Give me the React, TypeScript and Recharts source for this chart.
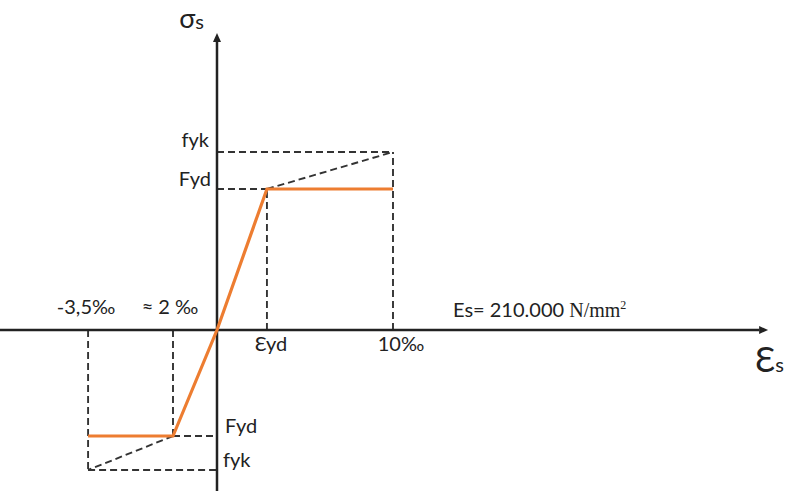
import React from 'react';
import { ComposedChart, Line, XAxis, YAxis, ReferenceLine, ReferenceDot } from 'recharts';

// schematic positions as drawn (the sketch is not to scale)
const strainMarks = [-5.86, -2.0, 2.27, 8.0]; // -3,5‰  ~2‰  εyd  10‰
const stressMarks = [-1.4, -1.06, 1.41, 1.78]; // -fyk  -Fyd  Fyd  fyk
const strainLabels = ['-3,5‰', '≈ 2 ‰', 'Ɛyd', '10‰'];
const stressLabels = ['fyk', 'Fyd', 'Fyd', 'fyk'];
const modulusLabel = ['Es= 210.000 ', 'N/mm', '2'];

const [eNeg35, eNeg2, eYd, e10] = strainMarks;
const [fykNeg, fydNeg, fydPos, fykPos] = stressMarks;

const curve = [
  { x: eNeg35, y: fydNeg },
  { x: eNeg2, y: fydNeg },
  { x: 0, y: 0 },
  { x: eYd, y: fydPos },
  { x: e10, y: fydPos },
];

const X_DOMAIN: [number, number] = [-9.8636, 25.9545];
const Y_DOMAIN: [number, number] = [-1.61, 3.3];
const X_END = 25.05;
const Y_TOP = 2.97;

const FONT = 'Lato, "Open Sans", sans-serif';
const MATH = '"Liberation Serif", "DejaVu Serif", serif';
const DASH = '7 4';

const arrowLine = (p: any) => {
  const { x1, y1, x2, y2 } = p;
  const ang = Math.atan2(y2 - y1, x2 - x1);
  const L = 9;
  const W = 4;
  const bx = x2 - L * Math.cos(ang);
  const by = y2 - L * Math.sin(ang);
  const nx = -Math.sin(ang) * W;
  const ny = Math.cos(ang) * W;
  return (
    <g>
      <line x1={x1} y1={y1} x2={bx} y2={by} stroke="#222" strokeWidth={2.5} />
      <polygon points={`${x2},${y2} ${bx + nx},${by + ny} ${bx - nx},${by - ny}`} fill="#222" />
    </g>
  );
};

const dashed = (key: string, a: { x: number; y: number }, b: { x: number; y: number }) => (
  <ReferenceLine
    key={key}
    segment={[a, b]}
    stroke="#333"
    strokeWidth={1.9}
    strokeDasharray={DASH}
    ifOverflow="visible"
  />
);

const tag = (
  key: string,
  x: number,
  y: number,
  text: React.ReactNode,
  dx: number,
  dy: number,
  anchor: 'start' | 'middle' | 'end',
  size = 20,
) => (
  <ReferenceDot
    key={key}
    x={x}
    y={y}
    r={1}
    ifOverflow="visible"
    shape={(p: any) => (
      <text
        x={p.cx + dx}
        y={p.cy + dy}
        textAnchor={anchor}
        fontFamily={FONT}
        fontSize={size}
        fill="#222"
      >
        {text}
      </text>
    )}
  />
);

export default function App() {
  return (
    <div style={{ position: 'absolute', left: 0, top: 0, background: '#fff' }}>
      <ComposedChart width={788} height={491} data={curve} margin={{ top: 0, right: 0, bottom: 0, left: 0 }}>
        <XAxis type="number" dataKey="x" domain={X_DOMAIN} allowDataOverflow hide />
        <YAxis type="number" dataKey="y" domain={Y_DOMAIN} allowDataOverflow hide />

        {dashed('d1', { x: 0, y: fykPos }, { x: e10, y: fykPos })}
        {dashed('d2', { x: 0, y: fydPos }, { x: eYd, y: fydPos })}
        {dashed('d3', { x: eYd, y: 0 }, { x: eYd, y: fydPos })}
        {dashed('d4', { x: e10, y: 0 }, { x: e10, y: fykPos })}
        {dashed('d5', { x: eYd, y: fydPos }, { x: e10, y: fykPos })}
        {dashed('d6', { x: eNeg35, y: 0 }, { x: eNeg35, y: fykNeg })}
        {dashed('d7', { x: eNeg2, y: 0 }, { x: eNeg2, y: fydNeg })}
        {dashed('d8', { x: eNeg2, y: fydNeg }, { x: 0, y: fydNeg })}
        {dashed('d9', { x: eNeg35, y: fykNeg }, { x: 0, y: fykNeg })}
        {dashed('d10', { x: eNeg2, y: fydNeg }, { x: eNeg35, y: fykNeg })}

        <ReferenceLine
          segment={[{ x: X_DOMAIN[0], y: 0 }, { x: X_END, y: 0 }]}
          ifOverflow="visible"
          shape={arrowLine}
        />
        <ReferenceLine
          segment={[{ x: 0, y: Y_DOMAIN[0] }, { x: 0, y: Y_TOP }]}
          ifOverflow="visible"
          shape={arrowLine}
        />

        <Line
          type="linear"
          dataKey="y"
          stroke="#ED7D31"
          strokeWidth={3.2}
          dot={false}
          activeDot={false}
          isAnimationActive={false}
        />

        {tag('sig', 0, Y_TOP, <>σ<tspan fontSize={20} dy={1}>s</tspan></>, -13, -5, 'end', 27)}
        {tag('fykU', 0, fykPos, stressLabels[3], -8, -5, 'end')}
        {tag('fydU', 0, fydPos, stressLabels[2], -6, -3, 'end')}
        {tag('fydL', 0, fydNeg, stressLabels[1], 8, -3, 'start')}
        {tag('fykL', 0, fykNeg, stressLabels[0], 6, -3, 'start')}
        {tag('e35', eNeg35, 0, strainLabels[0], -2, -16, 'middle')}
        {tag('e2', eNeg2, 0, strainLabels[1], -3, -16, 'middle')}
        {tag('eyd', eYd, 0, strainLabels[2], 4, 21, 'middle')}
        {tag('e10', e10, 0, strainLabels[3], 8, 21, 'middle')}
        {tag('es', e10, 0, <>{modulusLabel[0]}<tspan fontFamily={MATH}>{modulusLabel[1]}</tspan><tspan fontFamily={MATH} fontSize={12} dy={-8}>{modulusLabel[2]}</tspan></>, 60, -13, 'start')}
        {tag('eps', X_END, 0, <>Ɛ<tspan fontSize={20}>s</tspan></>, -13, 42, 'start', 34)}
      </ComposedChart>
    </div>
  );
}
